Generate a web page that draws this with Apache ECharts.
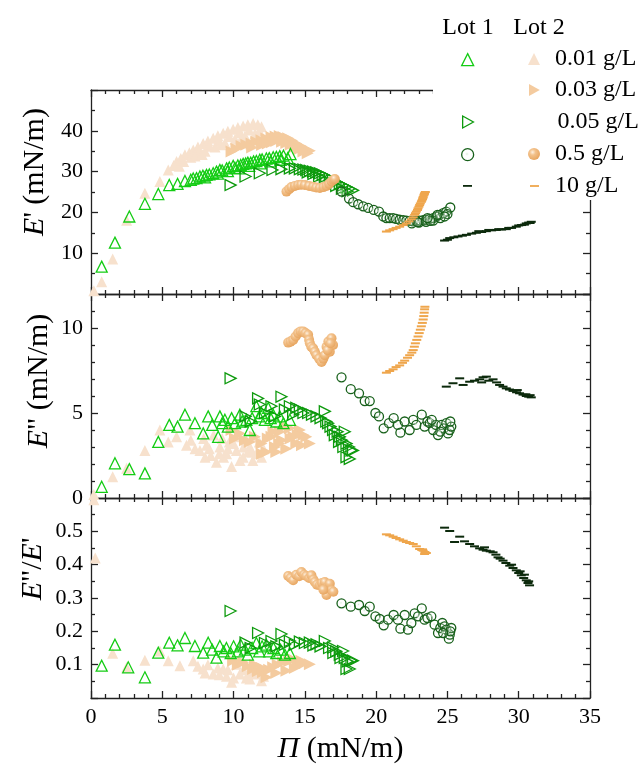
<!DOCTYPE html>
<html>
<head>
<meta charset="utf-8">
<script src="https://cdn.jsdelivr.net/npm/echarts@6/dist/echarts.min.js"></script>
<style>html,body{margin:0;padding:0;background:#fff}#c{width:642px;height:765px}</style>
</head>
<body>
<div id="c"></div>
<script>
// ---------- DATA (Π in mN/m, y values per panel) ----------
const xTickValues = [0, 5, 10, 15, 20, 25, 30, 35];
const legendLabels = ['0.01 g/L', '0.03 g/L', '0.05 g/L', '0.5 g/L', '10 g/L'];

// Panel 1: E' (mN/m)
const L2_001_E1 = [[0.2,0.8],[0.75,3.0],[1.52,8.6],[2.5,18.1],[3.78,24.7],[4.83,27.6],[5.42,30.4],[5.8,31.5],[6.0,32.5],[6.3,33.2],[6.59,34.1],[6.9,34.6],[7.17,35.3],[7.5,36.0],[7.87,36.9],[8.2,37.5],[8.57,38.2],[8.9,38.8],[9.27,39.4],[9.6,39.9],[9.97,40.4],[10.3,40.8],[10.67,41.2],[11.0,41.5],[11.37,41.8],[11.7,41.5],[11.96,41.0],[7.0,33.5],[7.6,34.8],[8.3,36.2],[9.0,37.5],[9.7,38.6],[10.4,39.5],[11.1,40.2],[11.8,40.0],[6.2,31.3],[6.5,32.5],[7.3,33.8],[7.8,34.2],[8.0,35.0],[8.7,36.0],[9.1,36.6],[9.4,37.0],[10.1,37.9],[10.6,38.5],[10.8,38.8],[11.5,39.3]];
const L2_003_E1 = [[9.86,34.9],[10.2,35.6],[10.56,36.3],[10.9,36.6],[11.26,36.9],[11.6,37.3],[11.96,37.7],[12.3,38.1],[12.66,38.5],[12.95,38.6],[13.24,38.7],[13.5,38.5],[13.83,38.2],[14.1,37.6],[14.4,36.9],[14.75,36.2],[15.1,35.5],[15.35,35.1],[12.0,36.5],[12.7,37.2],[13.4,37.3],[14.0,36.6],[14.6,35.5],[15.2,34.5],[11.3,35.9],[12.4,36.9],[13.0,37.5],[13.7,37.0],[14.3,36.0],[14.9,34.9]];
const L1_001_E1 = [[0.75,6.7],[1.68,12.6],[2.69,19.0],[3.78,22.1],[4.72,24.5],[5.49,26.7],[6.07,27.0],[6.59,27.7],[7.0,28.0],[7.17,28.3],[7.4,28.4],[7.64,28.8],[7.85,29.0],[8.1,29.2],[8.3,29.3],[8.57,29.6],[8.8,30.0],[9.04,30.4],[9.2,30.3],[9.51,30.8],[9.7,31.0],[9.97,31.4],[10.1,30.9],[10.3,31.5],[10.5,31.6],[10.67,31.9],[10.85,32.0],[11.0,32.2],[11.2,32.2],[11.4,32.5],[11.6,32.6],[11.84,32.9],[12.0,33.0],[12.3,33.2],[12.5,33.3],[12.78,33.5],[13.0,33.6],[13.24,33.8],[13.5,33.9],[13.99,34.3],[8.0,28.6],[8.9,29.5],[9.6,30.1],[10.4,30.8],[11.1,31.4],[11.9,32.0],[12.6,32.5],[13.3,32.9],[13.8,33.3]];
const L1_005_E1 = [[9.79,26.7],[10.84,28.8],[11.84,29.6],[12.73,30.4],[13.36,30.6],[13.95,30.8],[14.3,30.8],[14.65,30.6],[14.9,30.5],[15.1,30.4],[15.35,30.2],[15.58,30.0],[15.8,29.8],[16.05,29.6],[16.25,29.2],[16.5,28.8],[16.75,28.4],[16.98,28.0],[17.2,27.5],[17.45,27.0],[17.7,26.6],[17.92,26.2],[18.15,25.8],[18.38,25.4],[16.0,28.8],[16.4,28.0],[16.8,27.2],[17.2,26.5],[17.6,25.8],[18.0,25.2],[15.6,29.4],[15.2,29.8]];
const L1_05_E1 = [[17.57,25.1],[18.1,23.4],[18.39,22.5],[18.74,22.0],[19.09,21.5],[19.44,21.1],[19.83,20.6],[20.2,20.2],[20.5,19.0],[20.72,18.6],[20.95,18.6],[21.19,18.6],[21.4,18.4],[21.65,18.2],[21.9,18.1],[22.12,18.0],[22.35,17.9],[22.6,17.8],[22.8,17.9],[23.05,18.0],[23.3,18.1],[23.5,18.2],[23.75,18.4],[24.0,18.6],[24.25,19.0],[24.46,19.4],[24.7,19.8],[24.92,20.2],[25.2,21.2],[22.5,17.3],[23.0,17.5],[23.5,17.7],[24.0,18.0],[24.5,18.6],[25.0,19.6],[23.8,17.9],[24.8,19.0],[22.9,17.6],[23.6,18.6],[24.3,19.4]];
const L2_05_E1 = [[13.71,25.1],[13.9,25.7],[14.06,26.2],[14.3,26.5],[14.53,26.7],[14.75,26.8],[15.0,26.7],[15.3,26.5],[15.58,26.3],[15.8,26.1],[16.05,26.0],[16.3,26.2],[16.52,26.5],[16.7,27.0],[16.87,27.6],[17.0,28.0],[17.1,28.2]];
const L2_10_E1 = [[20.72,15.3],[20.95,15.6],[21.19,15.9],[21.4,16.2],[21.65,16.5],[21.9,16.9],[22.12,17.3],[22.3,17.8],[22.47,18.3],[22.6,18.8],[22.7,19.4],[22.82,20.2],[22.94,21.0],[23.05,21.8],[23.17,22.6],[23.25,23.2],[23.3,23.8],[23.35,24.2],[23.4,24.7],[23.45,25.0],[23.0,21.4],[23.1,22.2],[23.2,22.9],[23.28,23.5],[23.38,24.5],[22.9,20.6],[22.76,19.8]];
const L1_10_E1 = [[24.8,13.1],[25.16,13.7],[25.45,13.9],[25.74,14.1],[26.05,14.3],[26.33,14.5],[26.7,14.8],[27.03,15.0],[27.4,15.2],[27.73,15.4],[28.1,15.6],[28.43,15.7],[28.8,15.8],[29.13,15.9],[29.5,16.2],[29.83,16.5],[30.2,16.9],[30.53,17.3],[30.7,17.5],[30.88,17.7],[27.2,15.4],[27.9,15.7],[28.6,15.9],[29.3,16.2],[30.0,16.8],[30.4,17.0],[30.8,17.4],[25.0,13.3]];

// Panel 2: E'' (mN/m)
const L2_001_E2 = [[0.2,0.2],[1.52,1.25],[2.5,1.75],[3.78,2.8],[4.83,4.0],[5.42,3.3],[6.0,3.6],[6.7,3.1],[6.94,4.0],[7.3,2.9],[7.64,2.8],[8.1,3.1],[8.4,2.5],[8.8,2.1],[9.04,3.0],[9.3,2.4],[9.51,2.6],[9.86,1.85],[10.0,3.2],[10.2,2.8],[10.45,2.2],[10.67,2.4],[10.9,3.4],[11.14,3.0],[11.35,2.2],[11.6,2.6],[11.8,3.3],[11.96,2.4],[12.1,2.9],[7.0,3.4],[7.9,3.5],[8.6,3.7],[9.2,3.5],[9.7,3.3],[10.4,3.6],[11.0,2.7],[11.5,3.6],[8.0,2.4],[9.0,2.6],[8.3,2.9],[9.6,2.9],[10.7,3.0],[11.3,2.7]];
const L2_003_E2 = [[9.86,4.0],[10.1,3.5],[10.44,3.8],[10.8,3.4],[11.14,3.3],[11.5,3.6],[11.96,3.2],[12.31,2.7],[12.4,3.5],[12.66,3.6],[12.9,3.0],[13.24,3.9],[13.4,3.4],[13.7,2.9],[13.95,4.1],[14.2,3.6],[14.4,3.2],[14.65,4.0],[14.9,3.7],[15.1,3.6],[15.35,3.2],[14.8,3.1],[13.6,4.2],[12.0,2.6],[12.8,3.9],[13.2,3.2],[14.0,3.5],[14.5,3.7],[13.0,2.7]];
const L1_001_E2 = [[0.75,0.66],[1.68,2.04],[2.69,1.7],[3.78,1.45],[4.72,3.3],[5.49,4.3],[6.07,4.2],[6.59,4.9],[7.29,4.4],[7.87,3.8],[8.22,4.8],[8.5,4.3],[8.92,3.6],[9.04,4.8],[9.2,4.4],[9.39,4.6],[9.6,4.2],[9.86,4.7],[10.1,4.4],[10.44,4.9],[10.6,4.5],[10.9,4.6],[11.14,4.0],[11.3,4.7],[11.6,5.4],[11.8,4.8],[11.96,5.0],[12.2,4.6],[12.43,5.3],[12.6,4.7],[12.78,4.9],[13.0,4.5],[13.24,4.8],[13.5,4.4],[13.95,4.6]];
const L1_005_E2 = [[9.79,7.04],[10.84,4.8],[11.2,4.5],[11.72,5.86],[11.84,5.5],[12.2,5.0],[12.66,5.4],[12.9,4.8],[13.36,5.96],[13.6,5.2],[13.95,5.4],[14.18,4.9],[14.4,5.3],[14.65,5.2],[14.9,5.0],[15.23,5.0],[15.5,4.9],[15.82,4.8],[16.1,4.7],[16.4,5.1],[16.5,4.5],[16.63,4.4],[16.8,4.2],[16.98,4.0],[17.1,3.7],[17.3,3.9],[17.45,3.6],[17.6,3.4],[17.8,3.9],[17.92,3.2],[18.1,3.0],[18.27,2.8],[17.92,2.4],[18.15,2.3],[18.38,2.8],[17.7,3.0],[17.4,3.3]];
const L1_05_E2 = [[17.57,7.1],[18.22,6.4],[18.8,6.16],[19.2,5.7],[19.55,5.7],[19.95,5.0],[20.2,4.8],[20.53,4.1],[20.9,4.4],[21.23,4.7],[21.53,4.3],[21.7,3.84],[22.0,4.5],[22.35,4.0],[22.6,4.6],[22.82,4.3],[23.2,4.9],[23.4,4.2],[23.6,4.5],[23.76,4.4],[24.0,4.0],[24.2,4.3],[24.34,3.7],[24.58,4.3],[24.75,4.1],[24.92,4.4],[25.04,3.8],[25.16,4.0],[25.27,4.2],[24.5,3.9],[23.9,4.6],[25.2,4.5]];
const L2_05_E2 = [[13.83,9.14],[14.0,9.2],[14.18,9.3],[14.35,9.5],[14.53,9.7],[14.7,9.8],[14.88,9.8],[15.05,9.7],[15.23,9.6],[15.3,9.3],[15.35,9.1],[15.45,8.9],[15.58,8.8],[15.7,8.6],[15.82,8.4],[16.0,8.2],[16.17,8.0],[16.3,8.2],[16.4,8.4],[16.52,8.9],[16.65,9.2],[16.75,8.6],[16.87,9.4],[16.98,9.0],[16.6,8.7],[16.8,9.1]];
const L2_10_E2 = [[20.72,7.37],[20.95,7.47],[21.19,7.57],[21.4,7.7],[21.65,7.8],[21.85,7.95],[22.0,8.08],[22.2,8.25],[22.35,8.4],[22.5,8.55],[22.6,8.7],[22.68,8.9],[22.75,9.1],[22.85,9.3],[22.94,9.5],[23.02,9.7],[23.1,9.9],[23.17,10.1],[23.24,10.3],[23.3,10.5],[23.34,10.7],[23.37,10.9],[23.4,11.1],[23.42,11.25]];
const L1_10_E2 = [[24.92,6.55],[25.39,6.75],[25.86,7.04],[26.1,6.65],[26.56,6.84],[26.9,6.9],[27.26,6.98],[27.5,7.1],[27.73,7.14],[27.4,6.8],[27.9,6.9],[28.2,6.98],[28.45,6.8],[28.66,6.65],[28.9,6.55],[29.13,6.45],[29.35,6.38],[29.6,6.3],[29.85,6.22],[30.06,6.16],[30.3,6.08],[30.53,6.0],[30.7,5.96],[30.88,5.92],[30.5,6.1],[30.8,6.05],[29.9,6.35]];

// Panel 3: E''/E'
const L2_001_R = [[0.2,0.595],[0.3,0.42],[1.52,0.134],[2.5,0.092],[3.78,0.113],[4.83,0.141],[5.42,0.112],[6.24,0.097],[7.17,0.112],[7.5,0.095],[7.87,0.087],[8.2,0.1],[8.57,0.072],[8.9,0.09],[9.27,0.087],[9.5,0.065],[9.86,0.047],[10.2,0.101],[10.44,0.072],[10.7,0.085],[11.14,0.057],[11.3,0.08],[11.6,0.072],[11.96,0.052],[12.1,0.065],[8.0,0.075],[9.0,0.07],[10.0,0.06],[11.0,0.07],[9.6,0.085],[10.9,0.06]];
const L2_003_R = [[9.97,0.112],[10.3,0.1],[10.67,0.107],[11.0,0.095],[11.37,0.087],[11.7,0.08],[12.07,0.077],[12.31,0.062],[12.5,0.085],[12.78,0.092],[13.1,0.1],[13.47,0.107],[13.71,0.082],[13.9,0.11],[14.18,0.116],[14.5,0.1],[14.76,0.112],[15.0,0.105],[15.35,0.101],[14.3,0.09],[13.0,0.075],[12.0,0.09],[11.5,0.1]];
const L1_001_R = [[0.75,0.097],[1.68,0.16],[2.61,0.092],[3.78,0.062],[4.72,0.136],[5.49,0.166],[6.07,0.158],[6.59,0.18],[7.29,0.156],[7.87,0.136],[8.22,0.166],[8.5,0.145],[8.8,0.121],[9.04,0.156],[9.3,0.14],[9.5,0.15],[9.8,0.135],[10.0,0.155],[10.3,0.14],[10.5,0.16],[10.8,0.145],[11.0,0.13],[11.3,0.15],[11.6,0.165],[11.8,0.14],[12.0,0.155],[12.3,0.16],[12.5,0.14],[12.8,0.15],[13.0,0.135],[13.3,0.145],[13.6,0.13],[13.95,0.135]];
const L1_005_R = [[9.79,0.261],[10.84,0.166],[11.2,0.15],[11.72,0.195],[12.2,0.165],[12.66,0.171],[13.0,0.155],[13.36,0.192],[13.6,0.16],[13.95,0.171],[14.3,0.16],[14.65,0.169],[15.0,0.165],[15.35,0.166],[15.6,0.158],[15.82,0.161],[16.1,0.155],[16.4,0.171],[16.7,0.15],[16.98,0.151],[17.2,0.14],[17.45,0.13],[17.68,0.141],[17.8,0.12],[17.92,0.087],[18.0,0.11],[18.15,0.087],[18.27,0.112],[18.38,0.112],[17.5,0.12],[17.0,0.135]];
const L1_05_R = [[17.57,0.284],[18.22,0.274],[18.8,0.279],[19.2,0.261],[19.55,0.274],[19.95,0.245],[20.25,0.237],[20.53,0.218],[20.83,0.235],[21.23,0.249],[21.53,0.235],[21.7,0.208],[22.0,0.249],[22.23,0.205],[22.47,0.225],[22.7,0.254],[22.94,0.245],[23.2,0.269],[23.4,0.235],[23.6,0.24],[23.87,0.245],[24.1,0.22],[24.34,0.195],[24.5,0.21],[24.64,0.225],[24.8,0.215],[24.92,0.205],[25.1,0.178],[25.16,0.19],[25.27,0.21],[25.2,0.2],[24.7,0.195]];
const L2_05_R = [[13.83,0.366],[14.0,0.36],[14.18,0.353],[14.4,0.37],[14.6,0.365],[14.76,0.378],[14.95,0.37],[15.1,0.366],[15.3,0.36],[15.46,0.368],[15.6,0.355],[15.7,0.348],[15.85,0.34],[16.05,0.338],[16.2,0.345],[16.4,0.348],[16.52,0.309],[16.6,0.33],[16.75,0.343],[16.87,0.323],[17.0,0.319],[16.3,0.325]];
const L2_10_R = [[20.72,0.491],[20.95,0.488],[21.19,0.484],[21.4,0.48],[21.65,0.476],[21.9,0.472],[22.12,0.468],[22.35,0.465],[22.6,0.462],[22.82,0.455],[23.05,0.447],[23.2,0.444],[23.3,0.442],[23.42,0.438],[23.52,0.435],[23.4,0.432],[23.25,0.446]];
const L1_10_R = [[24.8,0.511],[25.16,0.501],[25.5,0.468],[25.86,0.484],[26.2,0.47],[26.56,0.462],[26.9,0.455],[27.26,0.449],[27.5,0.445],[27.73,0.442],[28.0,0.44],[28.2,0.437],[28.4,0.43],[28.55,0.422],[28.7,0.418],[28.9,0.412],[29.1,0.405],[29.37,0.397],[29.6,0.39],[29.83,0.383],[30.0,0.375],[30.18,0.368],[30.35,0.36],[30.53,0.353],[30.65,0.345],[30.76,0.338],[30.7,0.35],[30.4,0.37],[30.1,0.38],[29.5,0.4],[27.6,0.452]];

// ---------- STYLE / LAYOUT ----------
const FONT = '"Liberation Serif", "Times New Roman", serif';
const AXIS_COLOR = '#222';
const tops = [90, 294, 498], heights = [204, 204, 203];
const GL = 91, GW = 499;
const DASH = 'path://M0,0H10V2H0Z';
const RIGHT_TRI = 'path://M0,0L9,5L0,10Z';
const sphere = {type:'radial', x:0.38, y:0.35, r:0.7, colorStops:[{offset:0,color:'#fdf0e0'},{offset:0.35,color:'#f3c28c'},{offset:1,color:'#e6a35c'}]};
const hollowGreen = {type:'radial', x:0.45, y:0.45, r:0.5, colorStops:[{offset:0,color:'rgba(210,235,210,0.9)'},{offset:0.35,color:'rgba(255,255,255,0.15)'},{offset:1,color:'rgba(255,255,255,0.15)'}]};

const defs = [
  {name:'Lot 2 0.01 g/L', lot:2, row:0, data:[L2_001_E1, L2_001_E2, L2_001_R], symbol:'triangle', rot:0, size:11, style:{color:'#f7e1cd'}},
  {name:'Lot 2 0.03 g/L', lot:2, row:1, data:[L2_003_E1, L2_003_E2, L2_003_R], symbol:'triangle', rot:-90, size:12, style:{color:'#f4cb9f'}},
  {name:'Lot 1 0.01 g/L', lot:1, row:0, data:[L1_001_E1, L1_001_E2, L1_001_R], symbol:'triangle', rot:0, size:11, style:{color:'rgba(0,0,0,0)', borderColor:'#14cc14', borderWidth:1.3}},
  {name:'Lot 1 0.05 g/L', lot:1, row:2, data:[L1_005_E1, L1_005_E2, L1_005_R], symbol:'triangle', rot:-90, size:11, style:{color:'rgba(0,0,0,0)', borderColor:'#0d9a0d', borderWidth:1.3}, showText:true},
  {name:'Lot 1 0.5 g/L', lot:1, row:3, data:[L1_05_E1, L1_05_E2, L1_05_R], symbol:'circle', rot:0, size:9, style:{color:hollowGreen, borderColor:'#17601a', borderWidth:1.3}},
  {name:'Lot 2 0.5 g/L', lot:2, row:3, data:[L2_05_E1, L2_05_E2, L2_05_R], symbol:'circle', rot:0, size:10, style:{color:sphere}},
  {name:'Lot 2 10 g/L', lot:2, row:4, data:[L2_10_E1, L2_10_E2, L2_10_R], symbol:DASH, rot:0, size:[9,2], style:{color:'#efa64c'}},
  {name:'Lot 1 10 g/L', lot:1, row:4, data:[L1_10_E1, L1_10_E2, L1_10_R], symbol:DASH, rot:0, size:[9,2], style:{color:'#0c2a0c'}}
];
const rowY = [59, 90, 122, 154, 186];
const colX = {1: 467, 2: 534};
const TEXT_X = 555;

const yCfg = [
  {min:0, max:50, interval:10, minor:2, fmt:v => (v>0 && v<50) ? String(v) : ''},
  {min:0, max:12, interval:5, minor:5, fmt:v => (v<=10) ? String(v) : ''},
  {min:0, max:0.6, interval:0.1, minor:2, fmt:v => (v>0.05 && v<0.55) ? v.toFixed(1) : ''}
];

const lineStyle = {color: AXIS_COLOR, width: 1.3};
const grids = [], xAxes = [], yAxes = [], series = [], legends = [];
for (let i = 0; i < 3; i++) {
  grids.push({left: GL, width: GW, top: tops[i], height: heights[i], containLabel: false});
  ['bottom','top'].forEach(pos => {
    const isMain = pos === 'bottom' && i === 2;
    xAxes.push({
      gridIndex: i, type: 'value', position: pos, min: xTickValues[0], max: xTickValues[xTickValues.length-1], interval: 5,
      axisLine: {show: true, onZero: false, lineStyle},
      axisTick: {show: true, inside: true, length: 7, lineStyle},
      minorTick: {show: true, splitNumber: 5, length: 4, lineStyle},
      splitLine: {show: false},
      axisLabel: {show: isMain, fontFamily: FONT, fontSize: 22, color: '#000', margin: 8},
      name: isMain ? '{i|Π} (mN/m)' : '',
      nameLocation: 'middle', nameGap: 36,
      nameTextStyle: {fontFamily: FONT, fontSize: 30, color: '#000', rich: {i: {fontFamily: FONT, fontSize: 30, fontStyle: 'italic', color:'#000'}}}
    });
  });
  ['left','right'].forEach(pos => {
    const c = yCfg[i];
    yAxes.push({
      gridIndex: i, type: 'value', position: pos, min: c.min, max: c.max, interval: c.interval,
      axisLine: {show: true, onZero: false, lineStyle},
      axisTick: {show: true, inside: true, length: 7, lineStyle},
      minorTick: {show: true, splitNumber: c.minor, length: 4, lineStyle},
      splitLine: {show: false},
      axisLabel: {show: pos === 'left', fontFamily: FONT, fontSize: 22, color: '#000', margin: 8, formatter: c.fmt}
    });
  });
}

defs.forEach(d => {
  for (let i = 0; i < 3; i++) {
    series.push({
      type: 'scatter', name: d.name, xAxisIndex: 2*i, yAxisIndex: 2*i,
      data: d.data[i], symbol: d.symbol, symbolSize: d.size, symbolRotate: d.rot,
      itemStyle: Object.assign({opacity: 1}, d.style), emphasis: {disabled: true}, silent: true
    });
  }
  const label = d.name.replace(/^Lot \d /, '');
  const isDash = d.symbol === DASH;
  const iw = isDash ? 9 : (d.rot ? 11 : 12), ih = isDash ? 2 : 12;
  const hasText = d.lot === 2 || d.showText;
  const left = Math.round(colX[d.lot] - iw / 2);
  legends.push({
    data: [d.name],
    icon: d.rot ? RIGHT_TRI : undefined,
    left,
    top: hasText ? rowY[d.row] - 12 : rowY[d.row] - ih / 2,
    padding: 0, itemGap: 0, itemWidth: iw, itemHeight: ih,
    selectedMode: false,
    itemStyle: Object.assign({}, d.style),
    formatter: () => hasText ? label : '',
    textStyle: {fontFamily: FONT, fontSize: 24, color: '#000', lineHeight: 24,
      padding: [0, 0, 0, hasText ? Math.max(0, TEXT_X + (d.showText ? 2 : 0) - (left + iw + 5)) : 0]}
  });
});

const ttl = (text, x, y) => ({
  type: 'text', x, y, rotation: Math.PI/2, z: 10,
  style: {text, fontFamily: FONT, fontSize: 30, fill: '#000', align: 'center', verticalAlign: 'middle',
    rich: {i: {fontFamily: FONT, fontSize: 30, fontStyle: 'italic', fill: '#000'}}}
});

const chart = echarts.init(document.getElementById('c'), null, {renderer: 'canvas'});
chart.setOption({
  animation: false,
  backgroundColor: '#fff',
  grid: grids, xAxis: xAxes, yAxis: yAxes, series, legend: legends,
  graphic: [
    {type: 'rect', shape: {x: 433, y: 0, width: 209, height: 200}, style: {fill: '#fff'}, z: 3},
    {type: 'text', x: 468, y: 28, z: 10, style: {text: 'Lot 1', fontFamily: FONT, fontSize: 24, fill: '#000', align: 'center', verticalAlign: 'middle'}},
    {type: 'text', x: 539, y: 28, z: 10, style: {text: 'Lot 2', fontFamily: FONT, fontSize: 24, fill: '#000', align: 'center', verticalAlign: 'middle'}},
    ttl("{i|E}' (mN/m)", 35, 172),
    ttl('{i|E}" (mN/m)', 39, 381),
    ttl('{i|E}"/{i|E}\'', 33, 569)
  ]
});
</script>
</body>
</html>
